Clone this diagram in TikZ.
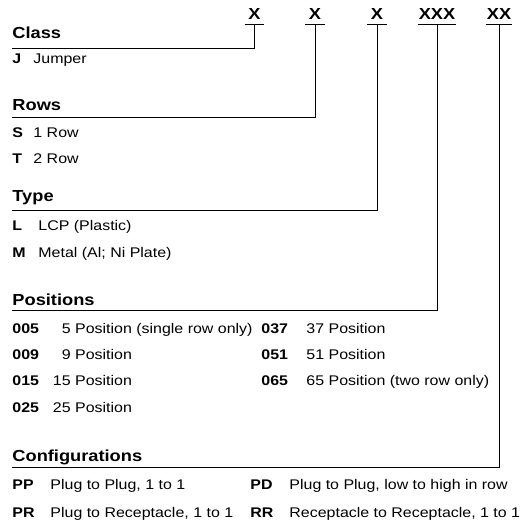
\documentclass[tikz,border=0pt]{standalone}
\usepackage{fontspec}
\setmainfont{Liberation Sans}[FakeStretch=1.14]

\begin{document}
\begin{tikzpicture}[x=1pt, y=-1pt, line width=0.9pt,
    hd/.style={font=\fontsize{16}{18}\selectfont\bfseries, anchor=base west, inner sep=0pt},
    code/.style={font=\fontsize{14}{16}\selectfont\bfseries, anchor=base west, inner sep=0pt},
    desc/.style={font=\fontsize{14}{16}\selectfont, anchor=base west, inner sep=0pt},
    field/.style={font=\fontsize{16}{18}\selectfont\bfseries, anchor=south,
        minimum width=19pt, inner xsep=0.5pt, inner ysep=4pt}]
    \useasboundingbox (0,0) rectangle (520,523);

    % Part number fields
    \node[field] (fClass) at (254.5,24) {X};
    \node[field] (fRows) at (315,24) {X};
    \node[field] (fType) at (377,24) {X};
    \node[field] (fPos) at (437,24) {XXX};
    \node[field] (fConf) at (499,24) {XX};
    \foreach \f in {fClass,fRows,fType,fPos,fConf}
        \draw (\f.south west) -- (\f.south east);

    % Heading rules
    \coordinate (lClass) at (12,48);
    \coordinate (lRows) at (12,117.5);
    \coordinate (lType) at (12,210.5);
    \coordinate (lPos) at (12,310);
    \coordinate (lConf) at (12,467.5);
    \draw (fClass.south) |- (lClass);
    \draw (fRows.south) |- (lRows);
    \draw (fType.south) |- (lType);
    \draw (fPos.south) |- (lPos);
    \draw (fConf.south) |- (lConf);

    % Class
    \node[hd] (hClass) at (12,38) {Class};
    \node[code] (cJ) at (12,63.5) {J};
    \node[desc] (dJ) at (33,63.5) {Jumper};

    % Rows
    \node[hd] (hRows) at (12,110.5) {Rows};
    \node[code] (cS) at (12,137) {S};
    \node[desc] (dS) at (33,137) {1 Row};
    \node[code] (cT) at (12,163) {T};
    \node[desc] (dT) at (33,163) {2 Row};

    % Type
    \node[hd] (hType) at (12,201.5) {Type};
    \node[code] (cL) at (12,230.5) {L};
    \node[desc] (dL) at (38,230.5) {LCP (Plastic)};
    \node[code] (cM) at (12,257) {M};
    \node[desc] (dM) at (38,257) {Metal (Al; Ni Plate)};

    % Positions
    \node[hd] (hPos) at (12,305) {Positions};
    \node[code] (c005) at (12,333) {005};
    \node[desc] (d005) at (52.5,333) {\phantom{0}5 Position (single row only)};
    \node[code] (c009) at (12,359) {009};
    \node[desc] (d009) at (52.5,359) {\phantom{0}9 Position};
    \node[code] (c015) at (12,385.5) {015};
    \node[desc] (d015) at (52.5,385.5) {15 Position};
    \node[code] (c025) at (12,412) {025};
    \node[desc] (d025) at (52.5,412) {25 Position};
    \node[code] (c037) at (261,333) {037};
    \node[desc] (d037) at (306,333) {37 Position};
    \node[code] (c051) at (261,359) {051};
    \node[desc] (d051) at (306,359) {51 Position};
    \node[code] (c065) at (261,385.5) {065};
    \node[desc] (d065) at (306,385.5) {65 Position (two row only)};

    % Configurations
    \node[hd] (hConf) at (12,461.5) {Configurations};
    \node[code] (cPP) at (12,489) {PP};
    \node[desc] (dPP) at (50,489) {Plug to Plug, 1 to 1};
    \node[code] (cPR) at (12,517.5) {PR};
    \node[desc] (dPR) at (50,517.5) {Plug to Receptacle, 1 to 1};
    \node[code] (cPD) at (250,489) {PD};
    \node[desc] (dPD) at (289,489) {Plug to Plug, low to high in row};
    \node[code] (cRR) at (250,517.5) {RR};
    \node[desc] (dRR) at (289,517.5) {Receptacle to Receptacle, 1 to 1};
\end{tikzpicture}
\end{document}
